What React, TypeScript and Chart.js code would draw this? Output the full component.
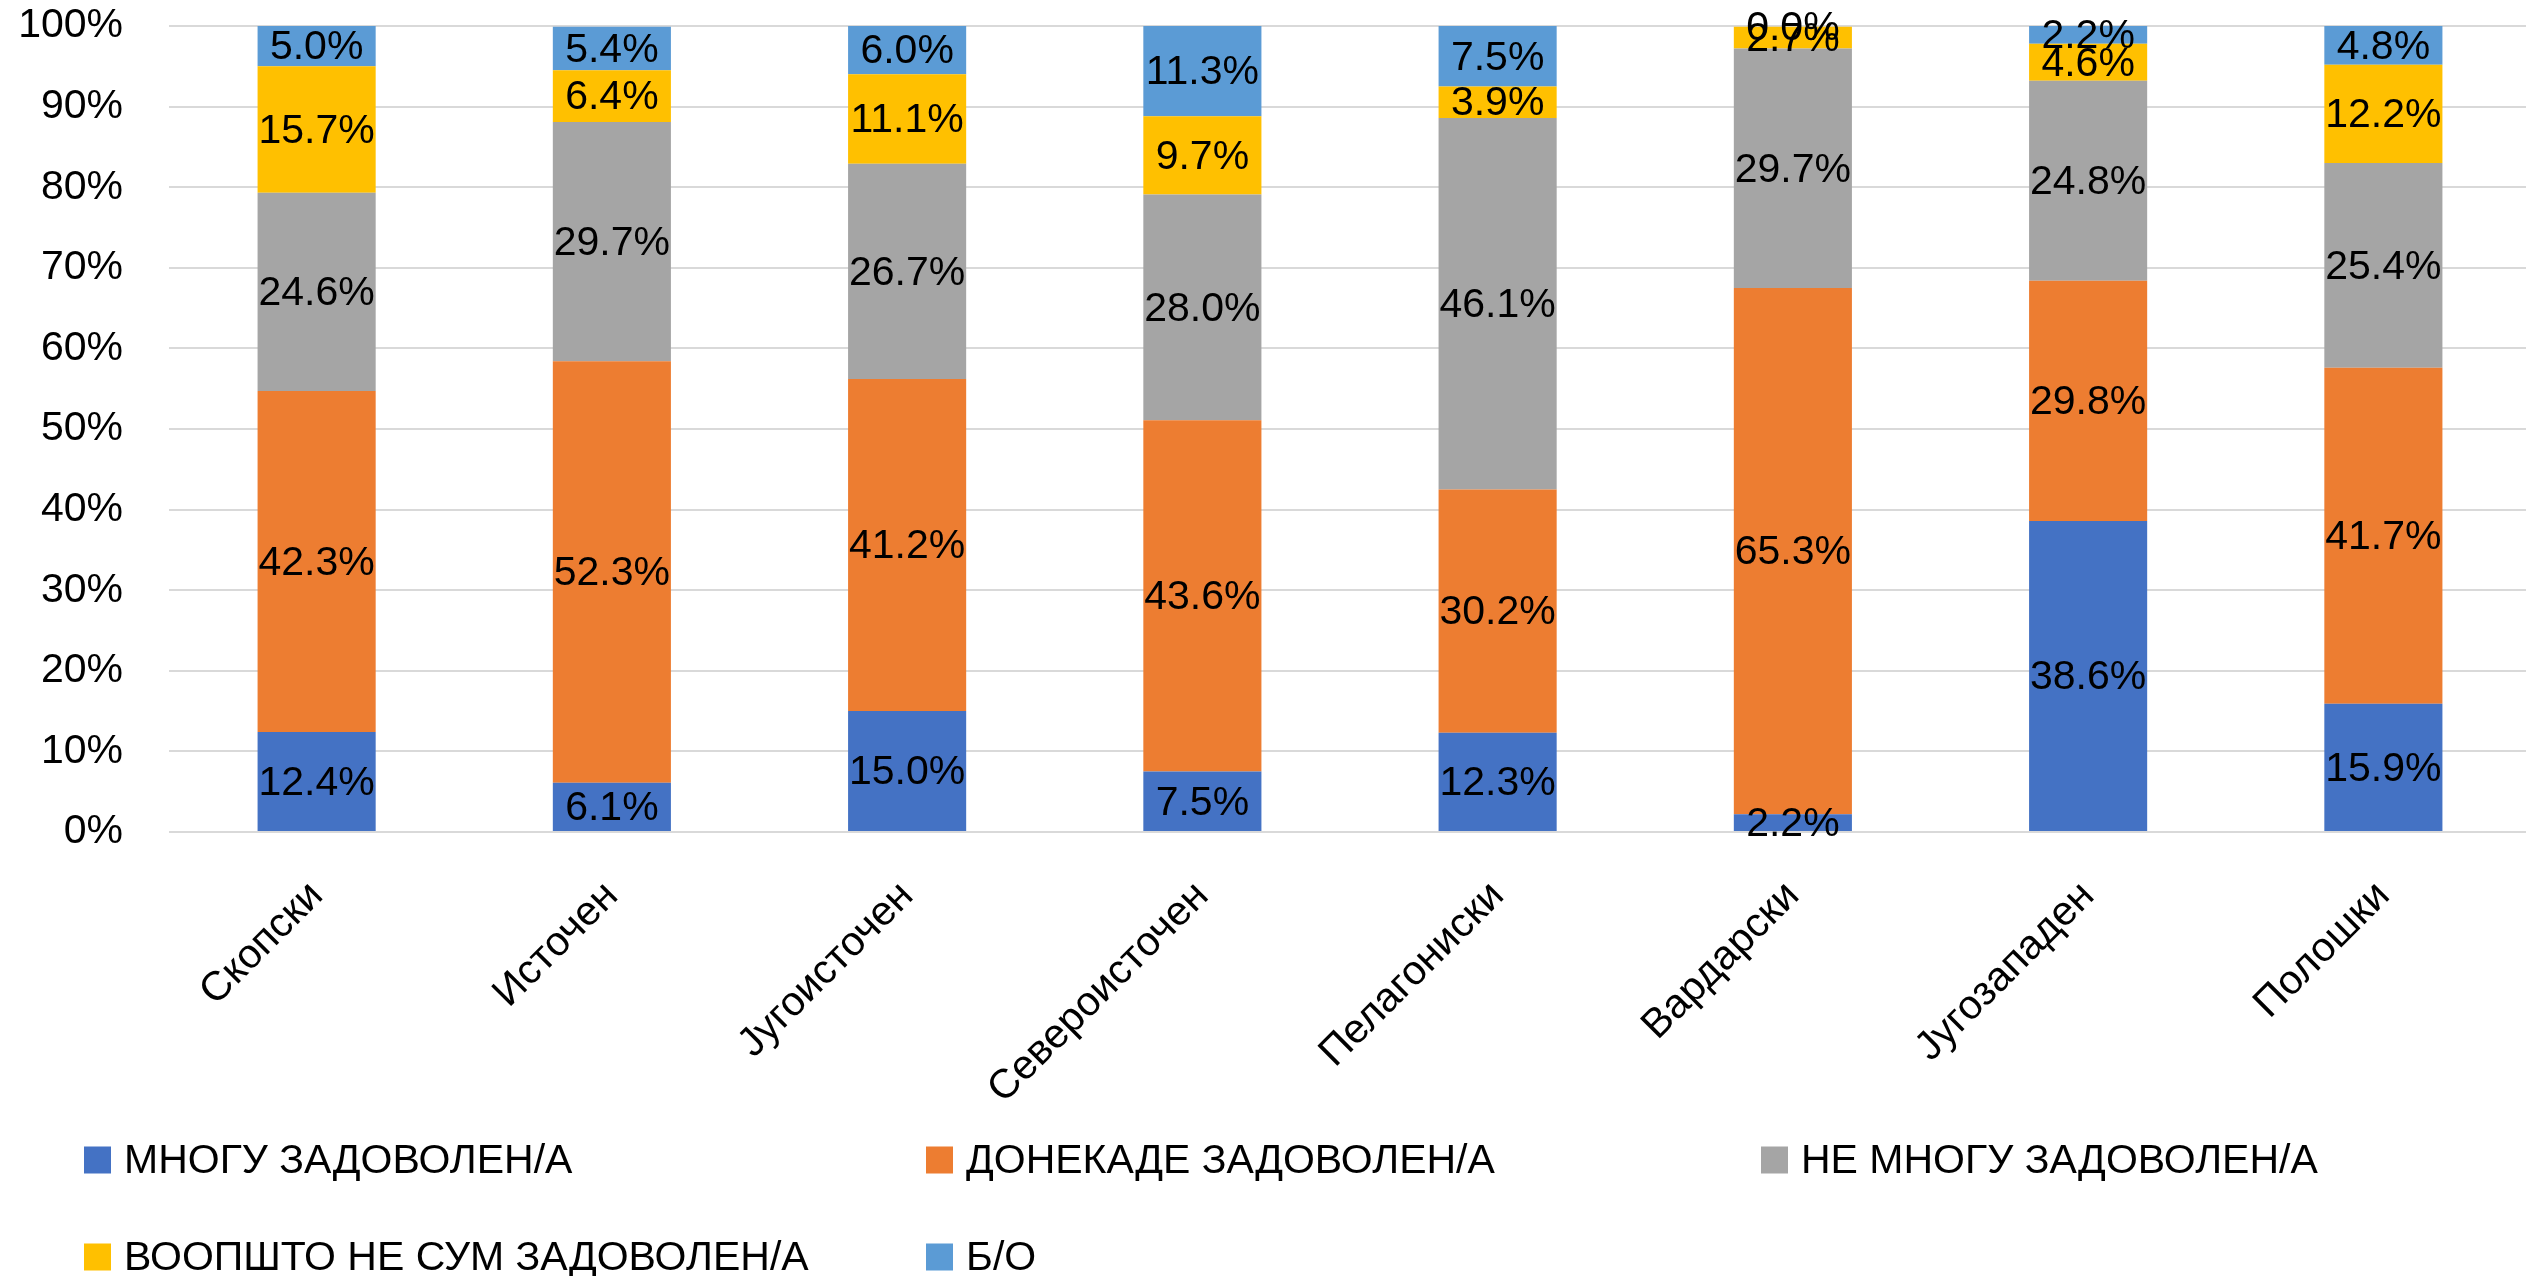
import React, { useEffect, useRef } from 'react';
import { Chart, registerables } from 'chart.js';

Chart.register(...registerables);

const categories = ['Скопски', 'Источен', 'Југоисточен', 'Североисточен', 'Пелагониски', 'Вардарски', 'Југозападен', 'Полошки'];

const seriesNames = ['МНОГУ ЗАДОВОЛЕН/А', 'ДОНЕКАДЕ ЗАДОВОЛЕН/А', 'НЕ МНОГУ ЗАДОВОЛЕН/А', 'ВООПШТО НЕ СУМ ЗАДОВОЛЕН/А', 'Б/О'];

const mnoguZadovolen = [12.4, 6.1, 15.0, 7.5, 12.3, 2.2, 38.6, 15.9];
const donekadeZadovolen = [42.3, 52.3, 41.2, 43.6, 30.2, 65.3, 29.8, 41.7];
const neMnoguZadovolen = [24.6, 29.7, 26.7, 28.0, 46.1, 29.7, 24.8, 25.4];
const voopshtoNeZadovolen = [15.7, 6.4, 11.1, 9.7, 3.9, 2.7, 4.6, 12.2];
const bezOdgovor = [5.0, 5.4, 6.0, 11.3, 7.5, 0.0, 2.2, 4.8];

const seriesValues = [mnoguZadovolen, donekadeZadovolen, neMnoguZadovolen, voopshtoNeZadovolen, bezOdgovor];
const seriesColors = ['#4472C4', '#ED7D31', '#A5A5A5', '#FFC000', '#5B9BD5'];

const yTickValues = [0, 10, 20, 30, 40, 50, 60, 70, 80, 90, 100];

const FONT = '"Liberation Sans", Arial, sans-serif';
const FONT_SIZE = 41;

const segmentLabels = {
  id: 'segmentLabels',
  afterDatasetsDraw(chart: any) {
    const ctx = chart.ctx;
    ctx.save();
    ctx.font = `${FONT_SIZE}px ${FONT}`;
    ctx.fillStyle = '#000000';
    ctx.textAlign = 'center';
    ctx.textBaseline = 'middle';
    chart.data.datasets.forEach((ds: any, di: number) => {
      const meta = chart.getDatasetMeta(di);
      meta.data.forEach((el: any, i: number) => {
        const v = ds.data[i];
        const p = el.getProps(['x', 'y', 'base'], true);
        ctx.fillText(`${Number(v).toFixed(1)}%`, p.x, (p.y + p.base) / 2 + 2);
      });
    });
    ctx.restore();
  },
};

const customLegend = {
  id: 'customLegend',
  afterDraw(chart: any) {
    const ctx = chart.ctx;
    const cols = [84, 926, 1761];
    const rows = [1160, 1257];
    const box = 27;
    ctx.save();
    ctx.font = `${FONT_SIZE}px ${FONT}`;
    ctx.textAlign = 'left';
    ctx.textBaseline = 'middle';
    chart.data.datasets.forEach((ds: any, i: number) => {
      const x = cols[i % 3];
      const y = rows[Math.floor(i / 3)];
      ctx.fillStyle = ds.backgroundColor;
      ctx.fillRect(x, y - box / 2, box, box);
      ctx.fillStyle = '#000000';
      ctx.fillText(ds.label, x + 40, y + 2);
    });
    ctx.restore();
  },
};

export default function App() {
  const canvasRef = useRef<HTMLCanvasElement | null>(null);

  useEffect(() => {
    if (!canvasRef.current) return;
    const chart = new Chart(canvasRef.current, {
      type: 'bar',
      data: {
        labels: categories,
        datasets: seriesNames.map((name, i) => ({
          label: name,
          data: seriesValues[i],
          backgroundColor: seriesColors[i],
          borderWidth: 0,
          categoryPercentage: 1,
          barPercentage: 0.4,
        })),
      },
      options: {
        animation: false,
        responsive: false,
        devicePixelRatio: 1,
        layout: { padding: { left: 18, right: 0, top: 26, bottom: 154 } },
        plugins: {
          legend: { display: false },
          tooltip: { enabled: false },
        },
        scales: {
          x: {
            stacked: true,
            grid: { display: false, drawTicks: false },
            border: { display: false },
            ticks: {
              color: '#000000',
              font: { family: FONT, size: FONT_SIZE },
              minRotation: 45,
              maxRotation: 45,
              autoSkip: false,
              padding: 40,
            },
            afterFit: (scale: any) => {
              scale.height = 290;
            },
          },
          y: {
            stacked: true,
            min: 0,
            max: 100,
            afterBuildTicks: (scale: any) => {
              scale.ticks = yTickValues.map((v) => ({ value: v }));
            },
            grid: { color: '#D9D9D9', lineWidth: 2, drawTicks: false },
            border: { display: false },
            ticks: {
              color: '#000000',
              font: { family: FONT, size: FONT_SIZE },
              padding: 46,
              callback: (v: any) => `${v}%`,
            },
            afterFit: (scale: any) => {
              scale.width = 151;
              scale.paddingTop = 0;
              scale.paddingBottom = 0;
            },
          },
        },
      },
      plugins: [segmentLabels, customLegend],
    });
    return () => chart.destroy();
  }, []);

  return (
    <div style={{ position: 'absolute', left: 0, top: 0, width: 2526, height: 1276, overflow: 'hidden', background: '#ffffff' }}>
      <canvas ref={canvasRef} width={2531} height={1276} style={{ display: 'block', width: 2531, height: 1276 }} />
    </div>
  );
}
